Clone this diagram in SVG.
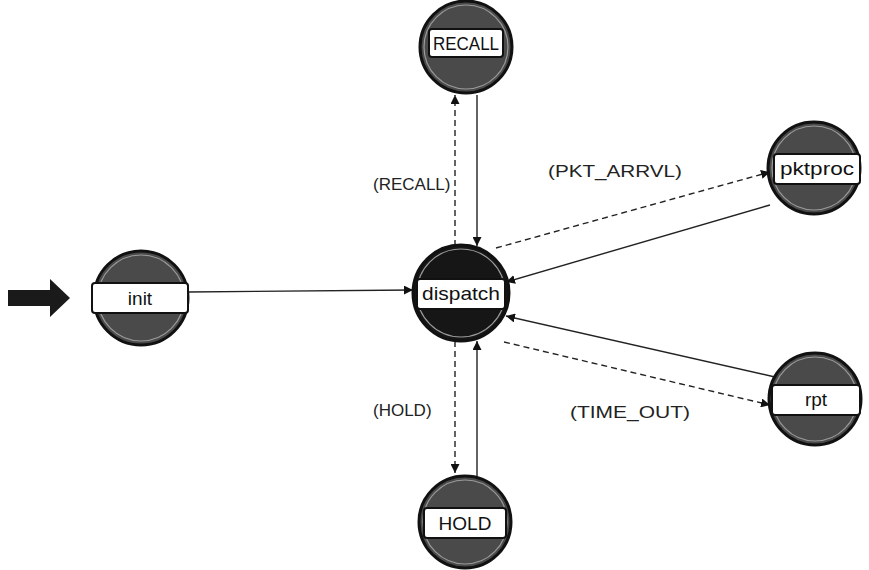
<svg xmlns="http://www.w3.org/2000/svg" width="869" height="570" viewBox="0 0 869 570">
<defs>
<style>
.st circle.o{fill:#4a4a4a;stroke:#111;stroke-width:3}
.st circle.i{fill:none;stroke:#9a9a9a;stroke-width:1.2}
.st rect{fill:#fff;stroke:#111;stroke-width:2}
.st text{font-family:"Liberation Sans",Arial,sans-serif;font-size:19px;fill:#111;text-anchor:middle}
#dispatch circle.o{fill:#161616}
.c{fill:none;stroke:#222;stroke-width:1.4}
.d{stroke-dasharray:6 4}
.lbl{font-family:"Liberation Sans",Arial,sans-serif;font-size:17px;fill:#222}
</style>
<marker id="ah" viewBox="0 0 10 10" refX="10" refY="5" markerWidth="9" markerHeight="9" markerUnits="userSpaceOnUse" orient="auto">
<path d="M0,0 L10,5 L0,10 z" fill="#111"/>
</marker>
</defs>
<rect width="869" height="570" fill="#fff"/>
<g id="connectors">
<path d="M8,290 H50 V279 L70,298 L50,317 V306 H8 z" fill="#1a1a1a"/>
<line class="c" x1="188" y1="292" x2="413" y2="290" marker-end="url(#ah)"/>
<line class="c d" x1="455" y1="246" x2="455" y2="95" marker-end="url(#ah)"/>
<line class="c" x1="477" y1="95" x2="477" y2="246" marker-end="url(#ah)"/>
<line class="c d" x1="496" y1="248" x2="770" y2="172" marker-end="url(#ah)"/>
<line class="c" x1="770" y1="205" x2="506" y2="282" marker-end="url(#ah)"/>
<line class="c" x1="775" y1="377" x2="506" y2="316" marker-end="url(#ah)"/>
<line class="c d" x1="504" y1="342" x2="770" y2="405" marker-end="url(#ah)"/>
<line class="c d" x1="455" y1="341" x2="455" y2="473" marker-end="url(#ah)"/>
<line class="c" x1="477" y1="477" x2="477" y2="341" marker-end="url(#ah)"/>
<text class="lbl" x="373" y="190">(RECALL)</text>
<text class="lbl" x="548" y="177" textLength="134" lengthAdjust="spacingAndGlyphs">(PKT_ARRVL)</text>
<text class="lbl" x="373" y="416">(HOLD)</text>
<text class="lbl" x="570" y="418" textLength="120" lengthAdjust="spacingAndGlyphs">(TIME_OUT)</text>
</g>
<g id="init" class="st">
<circle class="o" cx="141" cy="298" r="47"/><circle class="i" cx="141" cy="298" r="43"/>
<rect x="92" y="283" width="96" height="30" rx="3"/><text x="140" y="305">init</text>
</g>
<g id="dispatch" class="st">
<circle class="o" cx="461" cy="293" r="48"/><circle class="i" cx="461" cy="293" r="44"/>
<rect x="417" y="279" width="88" height="30" rx="3"/><text x="461" y="300" textLength="78" lengthAdjust="spacingAndGlyphs">dispatch</text>
</g>
<g id="RECALL" class="st">
<circle class="o" cx="466" cy="47" r="46"/><circle class="i" cx="466" cy="47" r="42"/>
<rect x="429" y="29" width="74" height="28" rx="3"/><text x="466" y="50" textLength="66" lengthAdjust="spacingAndGlyphs">RECALL</text>
</g>
<g id="pktproc" class="st">
<circle class="o" cx="814" cy="168" r="46"/><circle class="i" cx="814" cy="168" r="42"/>
<rect x="774" y="154" width="86" height="30" rx="3"/><text x="817" y="175" textLength="74" lengthAdjust="spacingAndGlyphs">pktproc</text>
</g>
<g id="rpt" class="st">
<circle class="o" cx="815" cy="399" r="46"/><circle class="i" cx="815" cy="399" r="42"/>
<rect x="772" y="385" width="88" height="30" rx="3"/><text x="816" y="406">rpt</text>
</g>
<g id="HOLD" class="st">
<circle class="o" cx="465" cy="522" r="46"/><circle class="i" cx="465" cy="522" r="42"/>
<rect x="424" y="508" width="82" height="30" rx="3"/><text x="465" y="530">HOLD</text>
</g>
</svg>
